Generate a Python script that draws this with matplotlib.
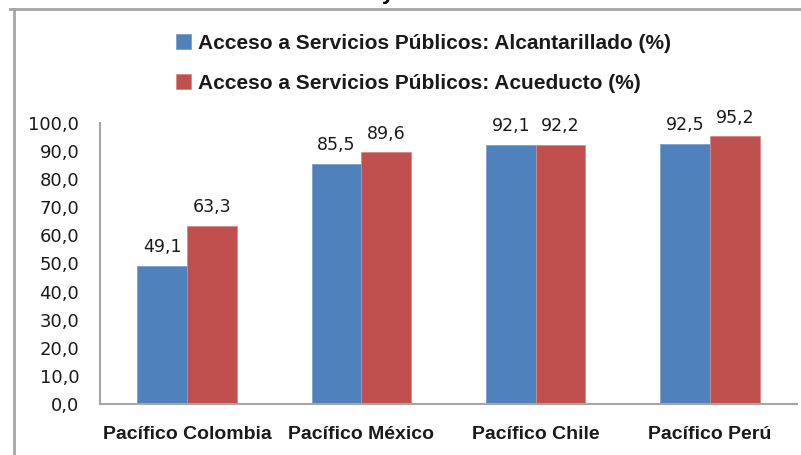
import matplotlib
matplotlib.use("Agg")
import matplotlib.pyplot as plt
import numpy as np

# dati: accesso ai servizi pubblici per regione del Pacifico
regioni = ["Pacífico Colombia", "Pacífico México", "Pacífico Chile", "Pacífico Perú"]
alcantarillado = [49.1, 85.5, 92.1, 92.5]
acueducto = [63.3, 89.6, 92.2, 95.2]
serie = ["Acceso a Servicios Públicos: Alcantarillado (%)",
         "Acceso a Servicios Públicos: Acueducto (%)"]
tick_y = [0, 10, 20, 30, 40, 50, 60, 70, 80, 90, 100]

font_b = "Liberation Sans"
blu = "#4f81bd"
rosso = "#c0504d"
grigio = "#a6a6a6"

fig = plt.figure(figsize=(8.01, 4.55), dpi=100)
W, H = 801, 455

# cornice grigia (solo sinistra e sopra)
fig.add_artist(plt.Line2D([14 / W, 14 / W], [0, 1 - 9 / H], color=grigio, lw=2, transform=fig.transFigure))
fig.add_artist(plt.Line2D([10 / W, 1], [1 - 9 / H, 1 - 9 / H], color=grigio, lw=2, transform=fig.transFigure))

# pezzo di titolo tagliato in alto (si vede solo la coda della "y")
fig.text(388 / W, 1 + 1 / H, "y", fontsize=16, fontweight="bold", family=font_b, ha="center", va="baseline")

ax = fig.add_axes([100 / W, 51 / H, 697 / W, 281 / H])
x = np.arange(len(regioni))
w = 0.2857
b1 = ax.bar(x - w / 2, alcantarillado, w, color=blu, edgecolor="#7da1cf", linewidth=0.6)
b2 = ax.bar(x + w / 2, acueducto, w, color=rosso, edgecolor="#d68a88", linewidth=0.6)

# etichette dei valori sopra le barre
for barre, valori in [(b1, alcantarillado), (b2, acueducto)]:
    for r, v in zip(barre, valori):
        ax.annotate(f"{v:.1f}".replace(".", ","), (r.get_x() + r.get_width() / 2, v),
                    xytext=(0, 7), textcoords="offset points", ha="center", va="bottom",
                    fontsize=12.5, color="#1a1a1a")

ax.set_xlim(-0.5, len(regioni) - 0.5)
ax.set_ylim(0, 100)
ax.set_yticks(tick_y)
ax.set_yticklabels([f"{t:.1f}".replace(".", ",") for t in tick_y], fontsize=13, color="#1a1a1a")
ax.set_xticks(x)
ax.set_xticklabels(regioni, fontsize=14, fontweight="bold", family=font_b, color="#1a1a1a")
ax.tick_params(axis="both", length=0)
ax.tick_params(axis="y", pad=15)
ax.tick_params(axis="x", pad=16)
for lato in ["top", "right"]:
    ax.spines[lato].set_visible(False)
for lato in ["left", "bottom"]:
    ax.spines[lato].set_color(grigio)
    ax.spines[lato].set_linewidth(1.5)

# legenda su due righe
leg = fig.legend([b1, b2], serie, loc="upper left", bbox_to_anchor=(157 / W, 1 - 15 / H),
                 frameon=False, prop={"family": font_b, "weight": "bold", "size": 15},
                 handlelength=0.75, handleheight=0.75, handletextpad=0.3, labelspacing=1.0)
for t in leg.get_texts():
    t.set_color("#1a1a1a")

plt.savefig("out.png", dpi=100)
